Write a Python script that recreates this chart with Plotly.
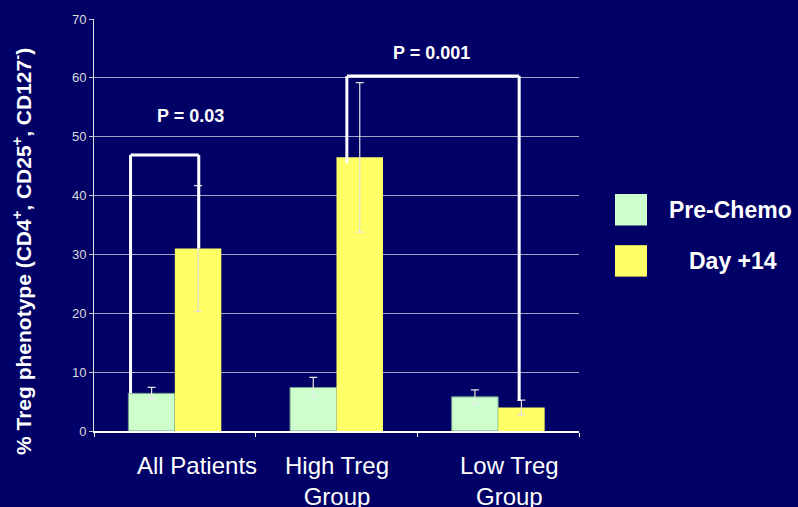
import plotly.graph_objects as go

categories = ["All Patients", "High Treg<br>Group", "Low Treg<br>Group"]
series_names = ["Pre-Chemo", "Day +14"]
pre_chemo = [6.4, 7.4, 5.8]
pre_chemo_err = [1.0, 1.7, 1.2]
day14 = [31.0, 46.5, 4.0]
day14_err = [10.7, 12.7, 1.25]
y_ticks = [0, 10, 20, 30, 40, 50, 60, 70]
p_labels = ["P = 0.03", "P = 0.001"]
y_title = "% Treg phenotype (CD4<sup>+</sup>, CD25<sup>+</sup>, CD127<sup>-</sup>)"

BG = "#000066"
C_PRE = "#CCFFCC"
C_D14 = "#FFFF66"
xi = [0, 1, 2]

fig = go.Figure()
fig.add_trace(go.Bar(
    x=xi, y=pre_chemo, name=series_names[0], marker_color=C_PRE,
    marker_line=dict(color="#6f9a8a", width=1),
    error_y=dict(type="data", array=pre_chemo_err, color="#e8e8e8", thickness=1.2, width=4),
))
fig.add_trace(go.Bar(
    x=xi, y=day14, name=series_names[1], marker_color=C_D14,
    marker_line=dict(color=C_D14, width=0),
    error_y=dict(type="data", array=day14_err, color="#e0e0e0", thickness=1.2, width=4),
))

# Significance brackets
wl = dict(color="white", width=3)
fig.add_shape(type="line", x0=-0.274, x1=-0.274, y0=pre_chemo[0], y1=46.9, line=wl)
fig.add_shape(type="line", x0=-0.274, x1=0.148, y0=46.9, y1=46.9, line=wl)
fig.add_shape(type="line", x0=0.148, x1=0.148, y0=46.9, y1=day14[0], line=wl)
fig.add_shape(type="line", x0=1.064, x1=1.064, y0=45.5, y1=60.3, line=wl)
fig.add_shape(type="line", x0=1.064, x1=2.13, y0=60.3, y1=60.3, line=wl)
fig.add_shape(type="line", x0=2.13, x1=2.13, y0=60.3, y1=5.1, line=wl)

fig.add_annotation(x=0.095, y=53.6, text=p_labels[0], showarrow=False,
                   font=dict(family="Liberation Sans", size=18, color="white", weight="bold"))
fig.add_annotation(x=1.59, y=64.3, text=p_labels[1], showarrow=False,
                   font=dict(family="Liberation Sans", size=18, color="white", weight="bold"))

# Category labels
label_offsets = [0.14, 0.0, 0.07]
for i, (c, off) in enumerate(zip(categories, label_offsets)):
    fig.add_annotation(x=i + off, y=0, yref="paper", yanchor="top", yshift=-19,
                       text=c, showarrow=False,
                       font=dict(family="Liberation Sans", size=24, color="white"))

# Y-axis title
fig.add_annotation(xref="paper", yref="paper", x=(22 - 94) / 485, y=(431 - 249) / 419,
                   xanchor="center", yanchor="middle",
                   text=y_title, textangle=-90, showarrow=False,
                   font=dict(family="Liberation Sans", size=21, color="white", weight="bold"))

# Legend (manual)
for j, (nm, col) in enumerate(zip(series_names, [C_PRE, C_D14])):
    yc = 206 + 52 * j
    fig.add_shape(type="rect", xref="paper", yref="paper",
                  x0=(615 - 94) / 485, x1=(647 - 94) / 485,
                  y0=(431 - (yc + 16)) / 419, y1=(431 - (yc - 16)) / 419,
                  fillcolor=col, line=dict(width=0))
    fig.add_annotation(xref="paper", yref="paper", x=(730.5 - 94) / 485 if j == 0 else (733 - 94) / 485,
                       y=(431 - yc) / 419, text=nm, showarrow=False, xanchor="center",
                       font=dict(family="Liberation Sans", size=23, color="white", weight="bold"))

fig.update_layout(
    width=798, height=507,
    margin=dict(l=94, r=219, t=12, b=76),
    paper_bgcolor=BG, plot_bgcolor=BG,
    barmode="group", bargap=0.425, bargroupgap=0,
    showlegend=False,
    font=dict(family="Liberation Sans", color="white"),
)
fig.update_xaxes(
    range=[-0.5, 2.5], tickvals=[-0.5, 0.5, 1.5, 2.5], showticklabels=False,
    ticks="outside", ticklen=4, tickcolor="white",
    showline=True, linecolor="white", linewidth=1.5, showgrid=False, zeroline=False,
)
fig.update_yaxes(
    range=[0, 70], tickvals=y_ticks,
    ticks="outside", ticklen=4, tickcolor="#c8c8d8",
    tickfont=dict(family="Liberation Sans", size=13, color="#dcdcdc"),
    showline=True, linecolor="#e0e0e0", linewidth=1,
    showgrid=True, gridcolor="#a4a4c4", gridwidth=1.3, zeroline=False,
)

fig.write_html("out.html", config={"displayModeBar": False},
               post_script="document.body.style.margin='0';document.body.style.overflow='hidden';")
